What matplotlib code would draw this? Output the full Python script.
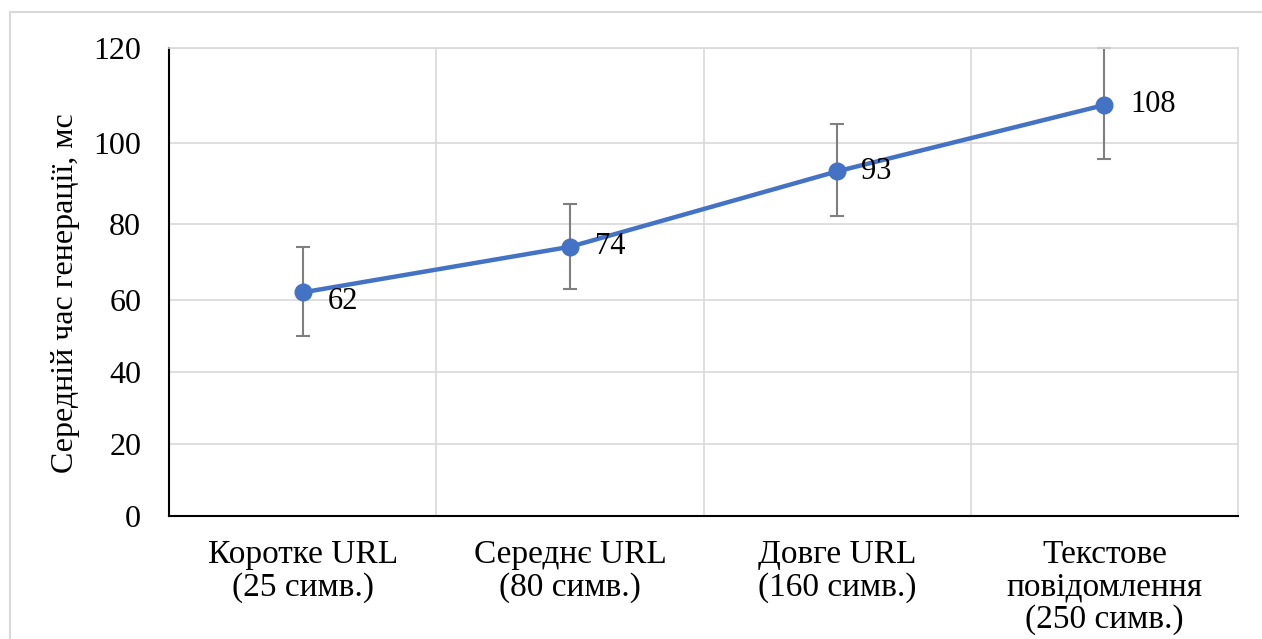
import matplotlib
matplotlib.use("Agg")
import matplotlib.pyplot as plt
import numpy as np
from matplotlib.patches import Rectangle

categories = ["Коротке URL\n(25 симв.)", "Середнє URL\n(80 симв.)",
              "Довге URL\n(160 симв.)", "Текстове\nповідомлення\n(250 симв.)"]
values = [62, 74, 93, 108]
errors = [12, 11, 11, 12]
y_ticks = [0, 20, 40, 60, 80, 100, 120]
y_label = "Середній час генерації, мс"

# the reference axis is unevenly spaced (stretched towards the top);
# relative gridline positions
tick_pos = [0, 72, 144, 216, 292, 373, 468]

plt.rcParams['font.family'] = ['Liberation Serif', 'DejaVu Serif']

W, H = 1262, 639
fig = plt.figure(figsize=(W / 100, H / 100), dpi=100)
ax = fig.add_axes([169 / W, 1 - 516 / H, (1238 - 169) / W, (516 - 48) / H])

fig.patches.append(Rectangle((10 / W, -0.1), 1.2, 1 - 12 / H + 0.1, transform=fig.transFigure,
                             fill=False, edgecolor='#d9d9d9', linewidth=1.5))

fwd = lambda v: np.interp(v, y_ticks, tick_pos)
inv = lambda p: np.interp(p, tick_pos, y_ticks)
ax.set_yscale('function', functions=(fwd, inv))

x = list(range(len(categories)))
eb = ax.errorbar(x, values, yerr=errors, fmt='none', ecolor='#7f7f7f', elinewidth=1.5,
                 capsize=5, capthick=1.5, zorder=2)
for artist in eb.lines[1] + eb.lines[2]:
    artist.set_clip_on(False)
ax.plot(x, values, color='#4472C4', linewidth=3.2, marker='o', markersize=12, zorder=3)

offsets = [(18, -6.5), (18, 0), (17, 0), (19, 0)]
for xi, v, off in zip(x, values, offsets):
    ax.annotate(str(v), (xi, v), xytext=off, textcoords='offset points',
                ha='left', va='center', fontsize=22)

ax.set_xlim(-0.5, 3.5)
ax.set_ylim(0, 120)
ax.set_yticks(y_ticks)
ax.set_yticklabels([str(t) for t in y_ticks])
ax.yaxis.set_minor_locator(matplotlib.ticker.NullLocator())
ax.set_xticks(x)
ax.set_xticklabels(categories, fontsize=24, linespacing=1.08)
ax.tick_params(axis='y', length=0, pad=20, labelsize=23)
ax.tick_params(axis='x', length=0, pad=17)

ax.set_xticks([0.5, 1.5, 2.5], minor=True)
ax.grid(True, which='major', axis='y', color='#d9d9d9', linewidth=1.2)
ax.grid(True, which='minor', axis='x', color='#d9d9d9', linewidth=1.2)
ax.tick_params(which='minor', length=0)
ax.set_axisbelow(True)

for s in ['top', 'right']:
    ax.spines[s].set_color('#d9d9d9')
    ax.spines[s].set_linewidth(1.2)
for s in ['left', 'bottom']:
    ax.spines[s].set_color('black')
    ax.spines[s].set_linewidth(1.5)

ax.set_ylabel(y_label, fontsize=23)
ax.yaxis.set_label_coords((80 - 169) / 1069, (516 - 293) / 468)

fig.savefig("out.png", dpi=100)
